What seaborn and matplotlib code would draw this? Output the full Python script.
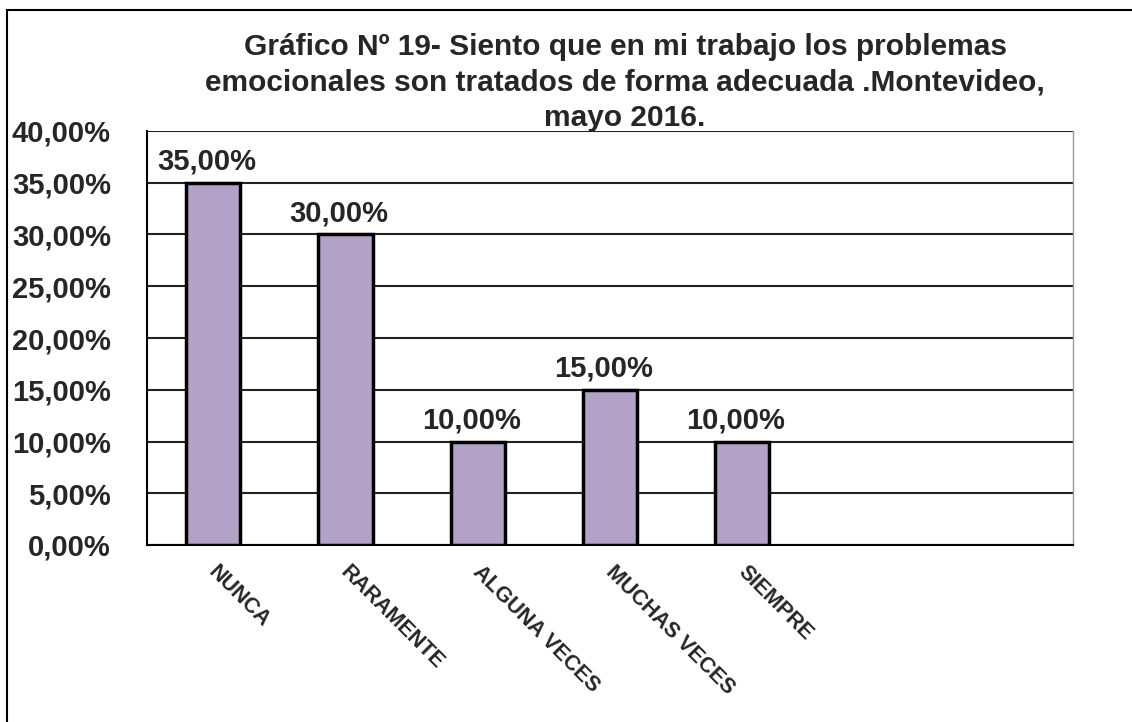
import matplotlib
matplotlib.use("Agg")
import matplotlib.pyplot as plt
import matplotlib.transforms as mtransforms
from matplotlib.ticker import FixedLocator
from matplotlib.patches import Rectangle
import seaborn as sns
import pandas as pd

categories = ["NUNCA", "RARAMENTE", "ALGUNA VECES", "MUCHAS VECES", "SIEMPRE"]
values = [35.0, 30.0, 10.0, 15.0, 10.0]
n_slots = 7  # the original axis leaves two empty category slots on the right
y_ticks = [0, 5, 10, 15, 20, 25, 30, 35, 40]

title = ("Gráfico Nº 19- Siento que en mi trabajo los problemas\n"
         "emocionales son tratados de forma adecuada .Montevideo,\n"
         "mayo 2016.")

sns.set_style("white")
plt.rcParams["font.family"] = ["Liberation Sans", "DejaVu Sans"]

df = pd.DataFrame({"cat": categories, "val": values})

fig = plt.figure(figsize=(11.32, 7.22), dpi=100)
ax = fig.add_axes([147 / 1132, 1 - 545 / 722, (1073 - 147) / 1132, (545 - 131) / 722])

sns.barplot(data=df, x="cat", y="val", order=categories, color="#B3A2C7",
            saturation=1, width=0.41, edgecolor="black", linewidth=2.5,
            ax=ax, zorder=3)

ax.set_xlim(-0.5, n_slots - 0.5)
ax.set_ylim(0, 40)
ax.set_xlabel("")
ax.set_ylabel("")

# y axis
ax.set_yticks(y_ticks)
ax.set_yticklabels([f"{t:.2f}%".replace(".", ",") for t in y_ticks],
                   fontsize=21, fontweight="bold")
ax.tick_params(axis="y", length=10, width=1.5, color="black", pad=16)
ax.yaxis.grid(True, color="#222222", linewidth=1.5, zorder=0)
ax.set_axisbelow(True)

# x axis: labels at bar centers, tick marks at slot boundaries
ax.set_xticks(range(len(categories)))
ax.set_xticklabels(categories, rotation=-45, ha="left", va="top",
                   rotation_mode="anchor", fontsize=15.5, fontweight="bold")
ax.tick_params(axis="x", which="major", length=0, pad=12)
shift = mtransforms.ScaledTranslation(6 / 100, 0, fig.dpi_scale_trans)
for lab in ax.get_xticklabels():
    lab.set_transform(lab.get_transform() + shift)
ax.xaxis.set_minor_locator(FixedLocator([i - 0.5 for i in range(n_slots + 1)]))
ax.tick_params(axis="x", which="minor", length=6, width=1.5, color="black")

for side in ["left", "bottom"]:
    ax.spines[side].set_color("black")
    ax.spines[side].set_linewidth(1.5)
ax.spines["top"].set_visible(False)
ax.spines["right"].set_color("#999999")
ax.spines["right"].set_linewidth(1)

for i, v in enumerate(values):
    ax.text(i - 0.05, v + 0.7, f"{v:.2f}%".replace(".", ","), ha="center",
            va="bottom", fontsize=21, fontweight="bold")

fig.text(625 / 1132, 1 - 33 / 722, title, ha="center", va="top", fontsize=21.5,
         fontweight="bold", linespacing=1.34)

# outer chart frame (only top and left edges visible in the original)
fig.patches.append(Rectangle((7 / 1132, -0.1), 1.2, 1 - 10 / 722 + 0.1,
                             transform=fig.transFigure, fill=False,
                             edgecolor="black", linewidth=1.5))

fig.savefig("out.png", dpi=100)
